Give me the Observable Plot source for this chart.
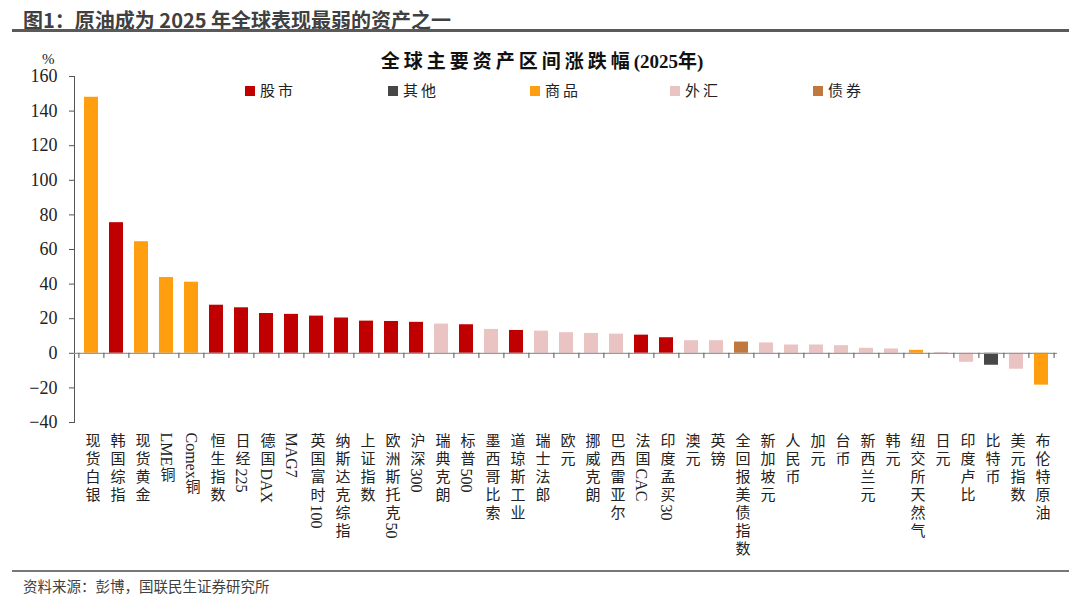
<!DOCTYPE html>
<html>
<head>
<meta charset="utf-8">
<script src="https://cdn.jsdelivr.net/npm/d3@7"></script>
<script src="https://cdn.jsdelivr.net/npm/@observablehq/plot@0.6"></script>
<style>
  html, body { margin: 0; padding: 0; background: #fff; }
  #wrap { position: relative; width: 1080px; height: 602px; overflow: hidden; font-family: "Liberation Serif", "Times New Roman", Times, "DejaVu Serif", "Noto Sans CJK SC", serif; }
  #head { position: absolute; left: 23px; top: 5px; font-family: "Noto Sans CJK SC", sans-serif; font-weight: bold; font-size: 20px; color: #404040; white-space: nowrap; }
  #headline { position: absolute; left: 12px; top: 29px; width: 1057px; height: 3px; background: #5a5a5a; }
  #chart { position: absolute; left: 0; top: 40px; }
  #ctitle { position: absolute; left: 0; width: 1080px; top: 46px; text-align: center; font-size: 19px; font-weight: bold; color: #111; padding-left: 2px; }
  #ctitle .cj { letter-spacing: 4px; }
  #pct { position: absolute; left: 42px; top: 51px; font-size: 15px; color: #222; }
  .leg { position: absolute; top: 79px; font-size: 15px; letter-spacing: 3px; color: #222; white-space: nowrap; }
  .leg i { display: inline-block; width: 10px; height: 10px; margin-right: 5px; vertical-align: 0px; }
  #footline { position: absolute; left: 12px; top: 570px; width: 1057px; height: 2px; background: #777; }
  #foot { position: absolute; left: 23px; top: 575px; font-family: "Noto Sans CJK SC", sans-serif; font-size: 14.5px; color: #404040; white-space: nowrap; }
</style>
</head>
<body>
<div id="wrap">
  <div id="head">图1：原油成为 2025 年全球表现最弱的资产之一</div>
  <div id="headline"></div>
  <div id="chart"></div>
  <div id="ctitle"><span class="cj">全球主要资产区间涨跌幅</span>(2025年)</div>
  <div id="pct">%</div>
  <div id="legend"></div>
  <div id="footline"></div>
  <div id="foot">资料来源：彭博，国联民生证券研究所</div>
</div>
<script>
const names = ["现货白银","韩国综指","现货黄金","LME铜","Comex铜","恒生指数","日经225","德国DAX","MAG7","英国富时100","纳斯达克综指","上证指数","欧洲斯托克50","沪深300","瑞典克朗","标普500","墨西哥比索","道琼斯工业","瑞士法郎","欧元","挪威克朗","巴西雷亚尔","法国CAC","印度孟买30","澳元","英镑","全回报美债指数","新加坡元","人民币","加元","台币","新西兰元","韩元","纽交所天然气","日元","印度卢比","比特币","美元指数","布伦特原油"];
const values = [148, 75.5, 64.5, 43.8, 41.1, 27.8, 26.3, 23.0, 22.5, 21.5, 20.4, 18.6, 18.4, 17.9, 16.9, 16.5, 13.8, 13.2, 12.8, 11.9, 11.5, 11.1, 10.5, 9.0, 7.3, 7.3, 6.5, 6.0, 4.8, 4.8, 4.4, 2.9, 2.5, 1.7, 0.5, -5.2, -6.9, -9.2, -18.4];
const types = ["商品","股市","商品","商品","商品","股市","股市","股市","股市","股市","股市","股市","股市","股市","外汇","股市","外汇","股市","外汇","外汇","外汇","外汇","股市","股市","外汇","外汇","债券","外汇","外汇","外汇","外汇","外汇","外汇","商品","外汇","外汇","其他","外汇","商品"];
const legendTypes = ["股市","其他","商品","外汇","债券"];
const legendColors = ["#C00000","#474747","#FF9E0E","#EAC3C3","#C0783F"];
const yTicks = [-40,-20,0,20,40,60,80,100,120,140,160];

const data = names.map((n, i) => ({name: n, value: values[i], type: types[i]}));

const FONT = '"Liberation Serif", "Times New Roman", Times, "DejaVu Serif", "Noto Sans CJK SC", serif';
const W = 1080, H = 525, mL = 74, mR = 23;
const step = (W - mL - mR) / names.length;

const plot = Plot.plot({
  width: W, height: H,
  marginTop: 36, marginBottom: 143, marginLeft: mL, marginRight: mR,
  style: {fontSize: "18px", color: "#222", background: "transparent"},
  x: {type: "band", domain: names, paddingInner: 0.44, paddingOuter: 0.22, axis: null},
  y: {domain: [-40, 160], axis: null},
  color: {domain: legendTypes, range: legendColors},
  marks: [
    Plot.barY(data, {x: "name", y: "value", fill: "type"}),
    Plot.frame({anchor: "left", stroke: "#555"}),
    Plot.axisY({ticks: yTicks, tickSize: 5, tickPadding: 12, label: null, stroke: "#555", fontSize: 18, className: "ylab"}),
    Plot.ruleY([0], {stroke: "#999", strokeWidth: 1.3}),
    Plot.ruleX(names, {x: d => d, y1: 0, y2: -3, dx: -step / 2, stroke: "#555"}),
    Plot.ruleX([names[names.length - 1]], {x: d => d, y1: 0, y2: -3, dx: step / 2, stroke: "#555"}),
    Plot.text(names, {x: d => d, y: -40, dy: 10, text: d => d, textAnchor: "start", lineAnchor: "bottom", fontSize: 15, fill: "#222", className: "xlab"})
  ]
});
document.getElementById("chart").appendChild(plot);
plot.style.fontFamily = FONT;
plot.querySelectorAll("text").forEach(t => { t.style.fontFamily = FONT; });
plot.querySelectorAll(".xlab text").forEach(t => {
  t.style.writingMode = "vertical-rl";
  t.style.textOrientation = "mixed";
  const s = t.textContent;
  t.textContent = "";
  const runs = s.match(/[A-Za-z0-9]+|[^A-Za-z0-9]+/g) || [];
  runs.forEach(r => {
    const ts = document.createElementNS("http://www.w3.org/2000/svg", "tspan");
    ts.textContent = r;
    if (!/[A-Za-z0-9]/.test(r)) ts.style.letterSpacing = "3px";
    else ts.style.fontSize = "16px";
    t.appendChild(ts);
  });
});

const leg = document.getElementById("legend");
const legX = [245, 388, 530, 670, 813];
legendTypes.forEach((t, i) => {
  const d = document.createElement("div");
  d.className = "leg";
  d.style.left = legX[i] + "px";
  d.innerHTML = `<i style="background:${legendColors[i]}"></i>${t}`;
  leg.appendChild(d);
});
</script>
</body>
</html>
